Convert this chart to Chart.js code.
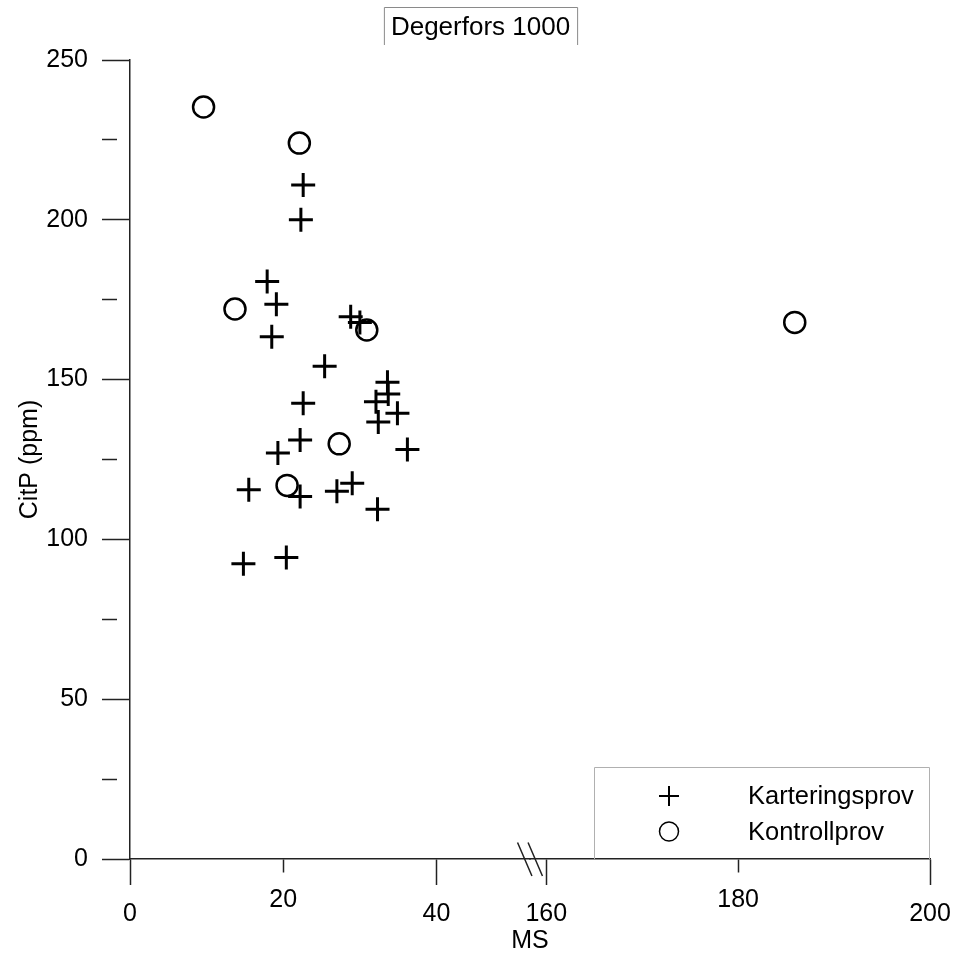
<!DOCTYPE html>
<html>
<head>
<meta charset="utf-8">
<script src="https://cdn.jsdelivr.net/npm/chart.js@4.4.1/dist/chart.umd.min.js"></script>
<style>
html,body{margin:0;padding:0;background:#fff;}
</style>
</head>
<body>
<canvas id="chart" width="955" height="956"></canvas>
<script>
const FONT="'Liberation Sans', Arial, sans-serif";
const chartTitle="Degerfors 1000";
const seriesNames=["Karteringsprov","Kontrollprov"];

// Karteringsprov (MS, CitP)
const kartMS  =[22.6,22.3,17.9,19.1,18.5,28.8,30.0,25.4,33.6,33.7,32.1,34.9,32.4,22.6,22.2,36.2,19.3,15.5,22.2,27.0,29.0,32.3,14.8,20.4];
const kartCitP=[210.9,200.0,180.7,173.6,163.4,169.7,167.9,154.2,149.2,145.5,143.1,139.5,136.7,142.6,131.1,128.1,127.0,115.5,113.4,115.1,117.6,109.4,92.4,94.3];

// Kontrollprov (MS, CitP)
const kontMS  =[9.6,22.1,13.7,30.9,27.3,20.5,185.9];
const kontCitP=[235.3,224.0,172.1,165.5,129.9,116.9,167.9];

// broken x axis: two pieces
const xLow ={min:0,max:52.2};
const xHigh={min:158.3,max:200};
const xTicksLow =[0,20,40];
const xTicksHigh=[160,180,200];
const xLongTicks=[0,40,160,200];
const yTicks=[0,25,50,75,100,125,150,175,200,225,250];
const yLabelStep=50;

function pts(xs,ys,range){
    return xs.map((x,i)=>({x:x,y:ys[i]})).filter(p=>p.x>=range.min&&p.x<=range.max);
}

const cross={pointStyle:"cross",pointRadius:12,pointBorderWidth:3,pointBorderColor:"#000",pointBackgroundColor:"#000"};
const ring ={pointStyle:"circle",pointRadius:10.5,pointBorderWidth:2.5,pointBorderColor:"#000",pointBackgroundColor:"rgba(0,0,0,0)"};

const datasets=[
    Object.assign({label:seriesNames[0],data:pts(kartMS,kartCitP,xLow), xAxisID:"x1"},cross),
    Object.assign({label:seriesNames[1],data:pts(kontMS,kontCitP,xLow), xAxisID:"x1"},ring),
    Object.assign({label:seriesNames[0],data:pts(kartMS,kartCitP,xHigh),xAxisID:"x2",noLegend:true},cross),
    Object.assign({label:seriesNames[1],data:pts(kontMS,kontCitP,xHigh),xAxisID:"x2",noLegend:true},ring)
];

function isLong(c){ return !c.tick || xLongTicks.includes(c.tick.value); }

function xScale(range,ticks){
    return {
        type:"linear",position:"bottom",stack:"ms",stackWeight:1,
        min:range.min,max:range.max,
        afterBuildTicks:s=>{ s.ticks=ticks.map(v=>({value:v})); },
        afterFit:s=>{ s.height=68; },
        border:{display:true,color:"#222",width:1.5},
        grid:{display:true,drawOnChartArea:false,drawTicks:true,tickLength:26,tickColor:"#222",tickWidth:1.5,
            tickBorderDash:c=>isLong(c)?[]:[13,100]},
        ticks:{color:"#000",padding:3.5,maxRotation:0,autoSkip:false,
            font:c=>({family:FONT,size:25,lineHeight:isLong(c)?"52px":"24px"})}
    };
}

// title box, legend and axis break
const frame={
    id:"frame",
    afterDraw(chart){
        const ctx=chart.ctx, a=chart.chartArea;
        ctx.save();

        ctx.font="26px "+FONT;
        ctx.fillStyle="#000";
        ctx.textAlign="center";
        ctx.textBaseline="middle";
        const tx=480.5, w=ctx.measureText(chartTitle).width;
        ctx.fillText(chartTitle,tx,28);
        ctx.strokeStyle="#8a8a8a";
        ctx.lineWidth=1;
        ctx.beginPath();
        ctx.moveTo(tx-w/2-6.5,45);
        ctx.lineTo(tx-w/2-6.5,7.5);
        ctx.lineTo(tx+w/2+7.5,7.5);
        ctx.lineTo(tx+w/2+7.5,45);
        ctx.stroke();

        // legend
        const lr=a.right, lb=a.bottom, ll=lr-336, lt=lb-92;
        ctx.strokeStyle="#b0b0b0";
        ctx.beginPath();
        ctx.moveTo(ll+0.5,lb);
        ctx.lineTo(ll+0.5,lt+0.5);
        ctx.lineTo(lr-0.5,lt+0.5);
        ctx.lineTo(lr-0.5,lb);
        ctx.stroke();
        const items=chart.data.datasets.filter(d=>!d.noLegend);
        ctx.font="25.5px "+FONT;
        ctx.textAlign="left";
        items.forEach((d,i)=>{
            const y=lb-63+i*35.5;
            const isCross=d.pointStyle==="cross";
            ctx.strokeStyle="#000";
            ctx.fillStyle="rgba(0,0,0,0)";
            ctx.lineWidth=isCross?2:1.5;
            Chart.helpers.drawPoint(ctx,{pointStyle:d.pointStyle,radius:isCross?10:9.5,rotation:0,borderWidth:ctx.lineWidth},ll+75,y);
            ctx.fillStyle="#000";
            ctx.fillText(d.label,ll+154,y+1);
        });

        // break marks
        const bx=chart.scales.x1.right, by=a.bottom;
        ctx.strokeStyle="#222";
        ctx.lineWidth=1.5;
        ctx.beginPath();
        [-5.25,5.25].forEach(o=>{
            ctx.moveTo(bx+o-7.2,by-16.5);
            ctx.lineTo(bx+o+7.2,by+17);
        });
        ctx.stroke();
        ctx.restore();
    }
};

new Chart(document.getElementById("chart"),{
    type:"scatter",
    data:{datasets:datasets},
    options:{
        responsive:false,
        animation:false,
        events:[],
        layout:{padding:{left:0,right:25,top:60,bottom:0}},
        plugins:{
            legend:{display:false},
            tooltip:{enabled:false},
            title:{display:false},
            subtitle:{display:true,text:"MS",position:"bottom",fullSize:false,color:"#000",
                font:{family:FONT,size:25,weight:"normal"},padding:{top:-1,bottom:0}}
        },
        scales:{
            x1:xScale(xLow,xTicksLow),
            x2:xScale(xHigh,xTicksHigh),
            y:{
                type:"linear",position:"left",min:0,max:250,
                afterBuildTicks:s=>{ s.ticks=yTicks.map(v=>({value:v})); },
                afterFit:s=>{ s.width=130; },
                border:{display:true,color:"#222",width:1.5},
                grid:{display:true,drawOnChartArea:false,drawTicks:true,tickLength:28,tickColor:"#222",tickWidth:1.5,
                    tickBorderDash:c=>(c.tick&&c.tick.value%yLabelStep)?[15,100]:[]},
                ticks:{color:"#000",padding:14,font:{family:FONT,size:25},
                    callback:v=>v%yLabelStep===0?String(v):""},
                title:{display:true,text:"CitP (ppm)",color:"#000",font:{family:FONT,size:25},padding:{top:15,bottom:0}}
            }
        }
    },
    plugins:[frame]
});
</script>
</body>
</html>
